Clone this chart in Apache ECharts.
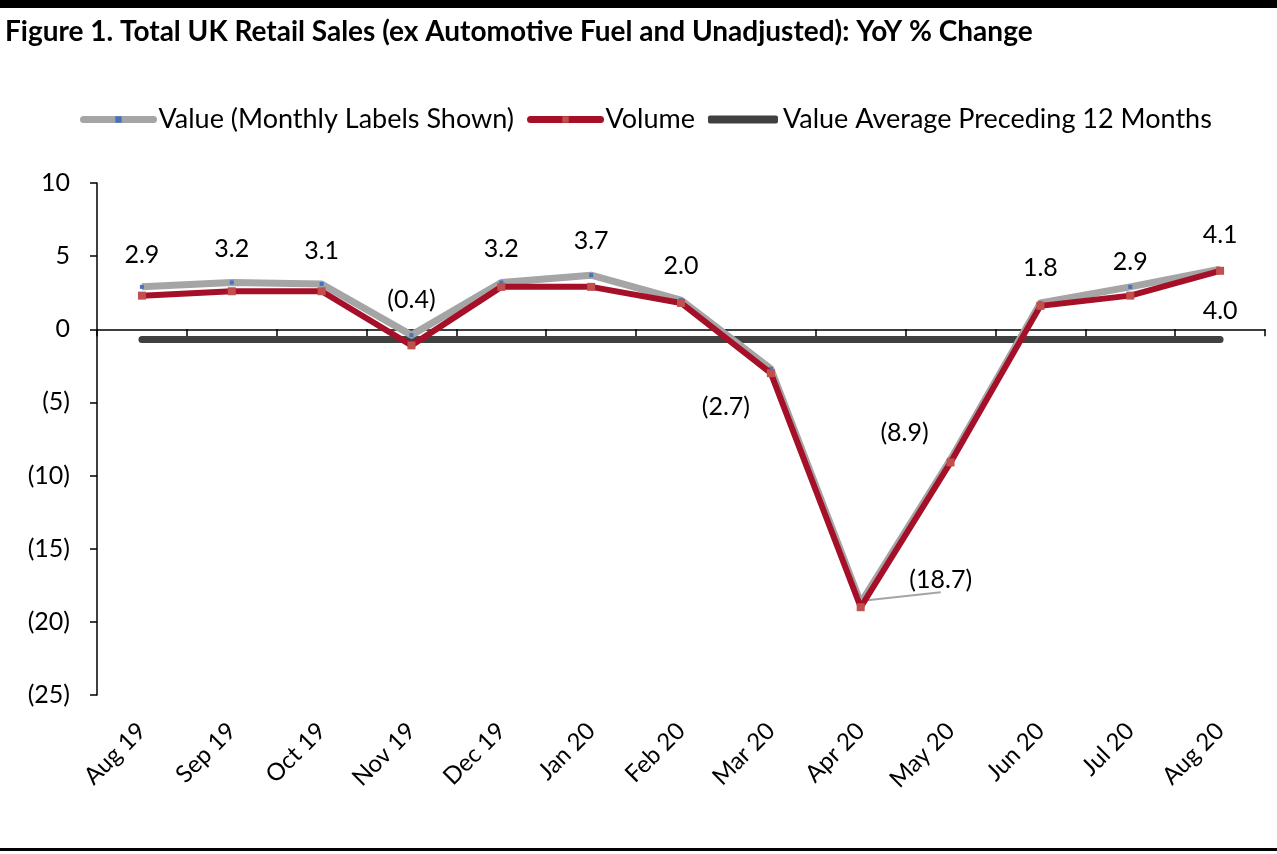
<!DOCTYPE html>
<html><head><meta charset="utf-8">
<script src="https://cdn.jsdelivr.net/npm/echarts@6/dist/echarts.min.js"></script>
<style>html,body{margin:0;padding:0;background:#fff}#c{width:1277px;height:854px}</style>
</head><body><div id="c"></div>
<script>
const categories = ['Aug 19','Sep 19','Oct 19','Nov 19','Dec 19','Jan 20','Feb 20','Mar 20','Apr 20','May 20','Jun 20','Jul 20','Aug 20'];
const valueSeries = [2.9, 3.2, 3.1, -0.4, 3.2, 3.7, 2.0, -2.7, -18.7, -8.9, 1.8, 2.9, 4.1];
const volumeSeries = [2.3, 2.6, 2.6, -1.1, 2.9, 2.9, 1.8, -3.0, -19.0, -9.1, 1.6, 2.3, 4.0];
const avgSeries = [-0.7, -0.7, -0.7, -0.7, -0.7, -0.7, -0.7, -0.7, -0.7, -0.7, -0.7, -0.7, -0.7];
const yTicks = {min: -25, max: 10, interval: 5};

const FONT = 'Lato';
const fmt = v => v < 0 ? '(' + Math.abs(v).toFixed(1) + ')' : v.toFixed(1);
const fmtAxis = v => v < 0 ? '(' + Math.abs(v) + ')' : String(v);

// label offsets (layout only)
const valOffsets = [[0,-32],[0,-34],[0,-33],[0,-35],[0,-34],[0,-34],[0,-34],[-45,38],[80,-23],[-46,-27],[0,-35],[0,-25],[0,-34]];

const valueData = valueSeries.map((v, i) => {
  const item = {value: v, label: {show: true, position: 'inside', offset: valOffsets[i]}};
  if (i === 8) item.labelLine = {show: true, lineStyle: {color: '#A5A5A5', width: 2}};
  return item;
});
const volumeData = volumeSeries.map((v, i) => i === volumeSeries.length - 1
  ? {value: v, label: {show: true, position: 'inside', offset: [0, 40]}}
  : v);

const chart = echarts.init(document.getElementById('c'), null, {renderer: 'canvas'});
chart.setOption({
  animation: false,
  textStyle: {fontFamily: FONT},
  graphic: [
    {type: 'rect', left: 0, top: 0, shape: {width: 1277, height: 8}, style: {fill: '#000'}},
    {type: 'rect', left: 0, top: 848, shape: {width: 1277, height: 3}, style: {fill: '#000'}},
    {type: 'text', left: 5, top: 18, style: {text: 'Figure 1. Total UK Retail Sales (ex Automotive Fuel and Unadjusted): YoY % Change', font: 'bold 28px Lato', fill: '#000'}}
  ],
  legend: {
    left: 75, top: 101,
    itemWidth: 70, itemHeight: 8, itemGap: 13,
    textStyle: {fontSize: 27, fontFamily: FONT, color: '#000'},
    lineStyle: {width: 7, cap: 'round'},
    data: [
      {name: 'Value (Monthly Labels Shown)'},
      {name: 'Volume'},
      {name: 'Value Average Preceding 12 Months', icon: 'roundRect', itemStyle: {color: '#404040'}}
    ]
  },
  grid: {left: 97, right: 12, top: 183, bottom: 159, containLabel: false},
  xAxis: [
    {
      type: 'category', data: categories, boundaryGap: true,
      axisLine: {onZero: true, lineStyle: {color: '#000', width: 1.5}},
      axisTick: {show: true, length: 7, lineStyle: {color: '#000', width: 1.5}},
      axisLabel: {show: false}
    },
    {
      type: 'category', data: categories, boundaryGap: true, position: 'bottom',
      axisLine: {show: false, onZero: false},
      axisTick: {show: false},
      axisLabel: {show: true, rotate: 45, margin: 32, fontSize: 24, fontFamily: FONT, color: '#000', interval: 0}
    }
  ],
  yAxis: {
    type: 'value', min: yTicks.min, max: yTicks.max, interval: yTicks.interval,
    axisLine: {show: true, lineStyle: {color: '#000', width: 1.5}},
    axisTick: {show: true, length: 7, lineStyle: {color: '#000', width: 1.5}},
    splitLine: {show: false},
    axisLabel: {formatter: fmtAxis, fontSize: 25, fontFamily: FONT, color: '#000', margin: 27}
  },
  series: [
    {
      name: 'Value Average Preceding 12 Months', type: 'line', data: avgSeries,
      showSymbol: false, symbol: 'circle',
      itemStyle: {color: '#404040'},
      lineStyle: {color: '#404040', width: 7, cap: 'round'},
      z: 2
    },
    {
      name: 'Value (Monthly Labels Shown)', type: 'line', data: valueData,
      symbol: 'rect', symbolSize: 4,
      itemStyle: {color: '#4472C4'},
      lineStyle: {color: '#A5A5A5', width: 7, join: 'round'},
      label: {color: '#000', fontSize: 25, fontFamily: FONT, formatter: p => fmt(p.value)},
      z: 3
    },
    {
      name: 'Volume', type: 'line', data: volumeData,
      symbol: 'rect', symbolSize: 8,
      itemStyle: {color: '#C0504D'},
      lineStyle: {color: '#A50F28', width: 6, join: 'round'},
      label: {show: false, color: '#000', fontSize: 25, fontFamily: FONT, formatter: p => fmt(p.value)},
      z: 4
    }
  ]
});
</script></body></html>
